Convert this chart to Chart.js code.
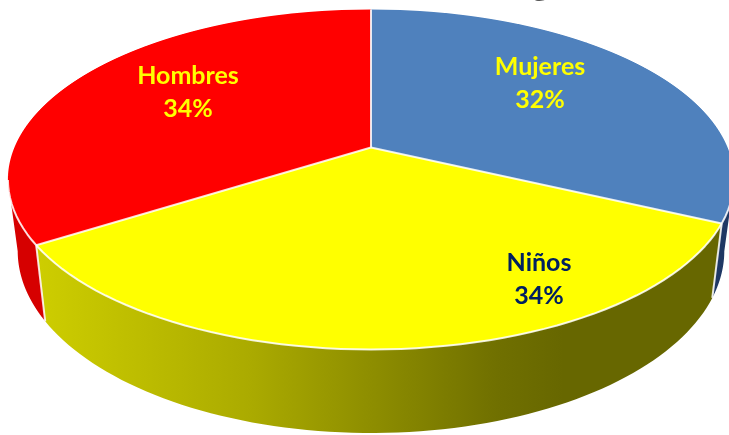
<!DOCTYPE html>
<html>
<head>
<meta charset="utf-8">
<style>
  html, body { margin: 0; padding: 0; background: #fff; overflow: hidden; }
  canvas { display: block; }
</style>
<script src="https://cdn.jsdelivr.net/npm/chart.js@4"></script>
</head>
<body>
<canvas id="pie" width="729" height="435"></canvas>
<script>
const categories = ['Mujeres', 'Niños', 'Hombres'];
const values = [32, 34, 34];

const topColors = ['#4f81bd', '#ffff00', '#ff0000'];
const labelColors = ['#ffff00', '#002060', '#ffff00'];
const labelSpots = [[540, 67], [539, 263], [188, 76]];

// perspective of the pie: top plane and bottom plane of the disc
const persp = 0.188;
const topPlane = { cx: 371, cy: 147.5, rx: 356.6, ry: 164 };
const lowPlane = { cx: 371, cy: 216.6, rx: 347, ry: 175.7 };
const visibleFrom = 101 * Math.PI / 180;
const visibleTo = 259 * Math.PI / 180;

function project(theta, plane, frac = 1) {
    const u = Math.sin(theta) * frac;
    const v = -Math.cos(theta) * frac;
    const w = 1 - persp * v;
    return [plane.cx + plane.rx * u / w, plane.cy + plane.ry * v / w];
}

function wallFill(ctx, index) {
    if (index === 0) return '#1f3864';
    if (index === 2) return '#d60000';
    const g = ctx.createLinearGradient(40, 0, 711, 0);
    g.addColorStop(0, '#cdcd00');
    g.addColorStop(0.31, '#abab00');
    g.addColorStop(0.68, '#707000');
    g.addColorStop(0.78, '#676700');
    g.addColorStop(1, '#676700');
    return g;
}

function arcPath(ctx, from, to, plane, move) {
    const steps = 80;
    for (let i = 0; i <= steps; i++) {
        const p = project(from + (to - from) * i / steps, plane);
        if (i === 0 && move) ctx.moveTo(p[0], p[1]);
        else ctx.lineTo(p[0], p[1]);
    }
}

const pie3d = {
    id: 'pie3d',
    beforeDatasetDraw(chart) {
        const ctx = chart.ctx;
        const arcs = chart.getDatasetMeta(0).data;
        const angles = arcs.map(a => [a.startAngle + Math.PI / 2, a.endAngle + Math.PI / 2]);

        // cut-off title letter at the top edge
        ctx.save();
        ctx.fillStyle = '#595959';
        ctx.font = 'bold 30px Lato';
        ctx.textAlign = 'center';
        ctx.fillText('g', 540, -4);
        ctx.restore();

        // side wall
        angles.forEach(([start, end], i) => {
            const lo = Math.max(start, visibleFrom);
            const hi = Math.min(end, visibleTo);
            if (lo >= hi) return;
            ctx.beginPath();
            arcPath(ctx, lo, hi, topPlane, true);
            arcPath(ctx, hi, lo, lowPlane, false);
            ctx.closePath();
            ctx.fillStyle = wallFill(ctx, i);
            ctx.fill();
        });

        // top face: the library's arcs, one pixel row at a time through the perspective
        const first = arcs[0];
        const r = first.outerRadius;
        for (let row = 0; row < chart.height; row++) {
            const t = row + 0.5 - topPlane.cy;
            const v = t / (topPlane.ry + persp * t);
            if (v < -1.01 || v > 1.01) continue;
            const w = 1 - persp * v;
            const a = topPlane.rx / (r * w);
            const d = topPlane.ry / (w * w * r);
            ctx.save();
            ctx.beginPath();
            ctx.rect(0, row, chart.width, 1);
            ctx.clip();
            ctx.setTransform(a, 0, 0, d, topPlane.cx - a * first.x, row + 0.5 - d * (first.y + v * r));
            arcs.forEach(arc => arc.draw(ctx));
            ctx.restore();
        }

        // white seams
        ctx.save();
        ctx.strokeStyle = 'rgba(255,255,255,0.85)';
        ctx.lineWidth = 2;
        ctx.lineJoin = 'round';
        const c = project(0, topPlane, 0);
        angles.forEach(([start]) => {
            const p = project(start, topPlane);
            ctx.beginPath();
            ctx.moveTo(c[0], c[1]);
            ctx.lineTo(p[0], p[1]);
            ctx.stroke();
            const q = project(start, lowPlane);
            if (start > visibleFrom && start < visibleTo) {
                ctx.beginPath();
                ctx.moveTo(p[0], p[1]);
                ctx.lineTo(q[0], q[1]);
                ctx.stroke();
            }
        });
        ctx.beginPath();
        arcPath(ctx, visibleFrom, visibleTo, topPlane, true);
        ctx.stroke();
        ctx.restore();
        return false;
    },
    afterDraw(chart) {
        const ctx = chart.ctx;
        ctx.save();
        ctx.font = 'bold 25px Lato';
        ctx.textAlign = 'center';
        ctx.textBaseline = 'middle';
        categories.forEach((name, i) => {
            ctx.fillStyle = labelColors[i];
            ctx.fillText(name, labelSpots[i][0], labelSpots[i][1]);
            ctx.fillText(values[i] + '%', labelSpots[i][0], labelSpots[i][1] + 32.5);
        });
        ctx.restore();
    }
};

new Chart(document.getElementById('pie'), {
    type: 'pie',
    data: {
        labels: categories,
        datasets: [{
            data: values,
            backgroundColor: topColors,
            borderWidth: 0
        }]
    },
    options: {
        responsive: false,
        devicePixelRatio: 1,
        animation: false,
        plugins: {
            legend: { display: false },
            tooltip: { enabled: false }
        }
    },
    plugins: [pie3d]
});
</script>
</body>
</html>
